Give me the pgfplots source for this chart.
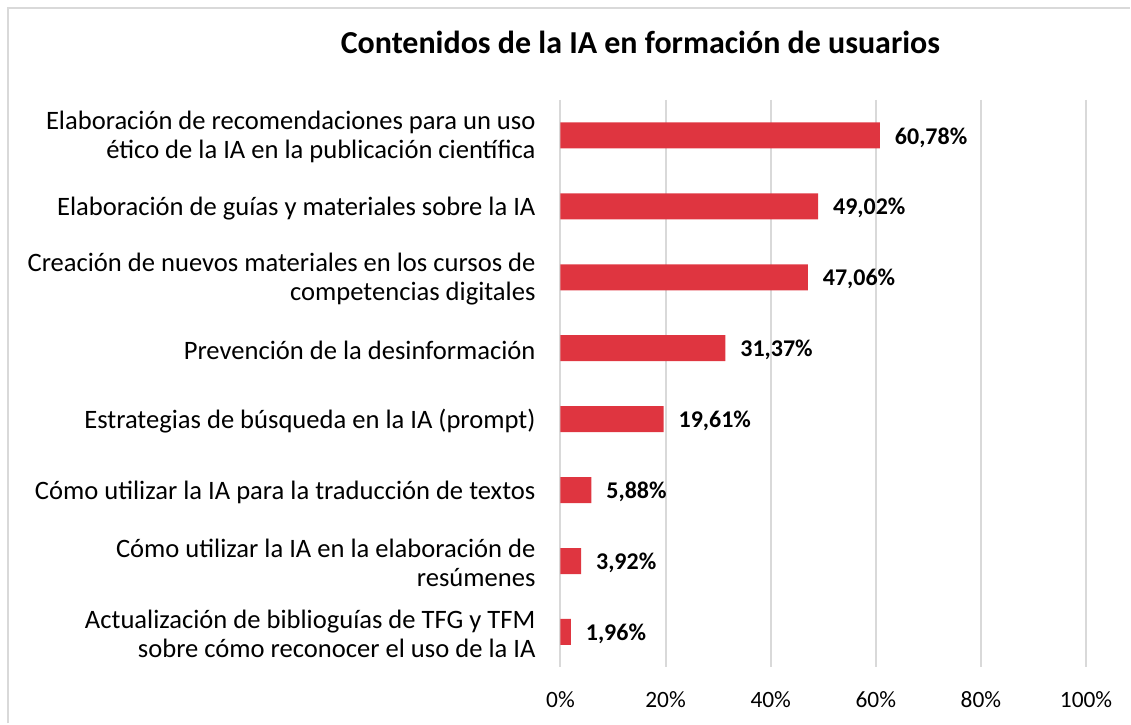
\documentclass[border=0pt]{standalone}
\usepackage{pgfplots}
\pgfplotsset{compat=1.18}
\usepackage{fontspec}
\setmainfont{Carlito}
\usetikzlibrary{calc}
\definecolor{barred}{HTML}{DF3540}
\definecolor{gridgray}{HTML}{D9D9D9}

\begin{document}
\begin{tikzpicture}
\begin{axis}[name=ax,
  scale only axis, width=263pt, height=284pt,
  xbar, bar width=13pt,
  xmin=0, xmax=100, ymin=-0.5, ymax=7.5, y dir=reverse,
  xtick={0,20,...,100},
  xticklabel={\pgfmathprintnumber{\tick}\%},
  ytick={0,...,7},
  yticklabels={
    {Elaboración de recomendaciones para un uso\\ético de la IA en la publicación científica},
    {Elaboración de guías y materiales sobre la IA},
    {Creación de nuevos materiales en los cursos de\\competencias digitales},
    {Prevención de la desinformación},
    {Estrategias de búsqueda en la IA (prompt)},
    {Cómo utilizar la IA para la traducción de textos},
    {Cómo utilizar la IA en la elaboración de\\resúmenes},
    {Actualización de biblioguías de TFG y TFM\\sobre cómo reconocer el uso de la IA}},
  yticklabel style={font=\fontsize{13.3}{14.5}\selectfont, align=right, xshift=-9pt, yshift=-1pt},
  xticklabel style={font=\fontsize{11.7}{13}\selectfont, yshift=-8.5pt},
  /pgf/number format/assume math mode=true,
  xmajorgrids, grid style={draw=gridgray, line width=1pt},
  axis line style={draw=none}, major tick length=0pt,
  nodes near coords={\pgfmathprintnumber[fixed,fixed zerofill,precision=2,use comma]{\pgfplotspointmeta}\%},
  nodes near coords style={font=\bfseries\fontsize{12}{14}\selectfont, xshift=4pt, yshift=-1pt},
  nodes near coords align=horizontal,
]
\addplot[fill=barred, draw=none] coordinates {
  (60.78,0) (49.02,1) (47.06,2) (31.37,3) (19.61,4) (5.88,5) (3.92,6) (1.96,7)};
\end{axis}
\node[font=\bfseries\fontsize{16}{18}\selectfont] at ($(ax.south west)+(40pt,313pt)$) {Contenidos de la IA en formación de usuarios};
\draw[gridgray, line width=1pt] ($(ax.south west)+(-276.5pt,-28pt)$) -- ($(ax.south west)+(-276.5pt,330pt)$) -- ($(ax.south west)+(285pt,330pt)$);
\path[use as bounding box] ($(ax.south west)+(-280.5pt,-28pt)$) rectangle ($(ax.south west)+(285pt,334pt)$);
\end{tikzpicture}
\end{document}
